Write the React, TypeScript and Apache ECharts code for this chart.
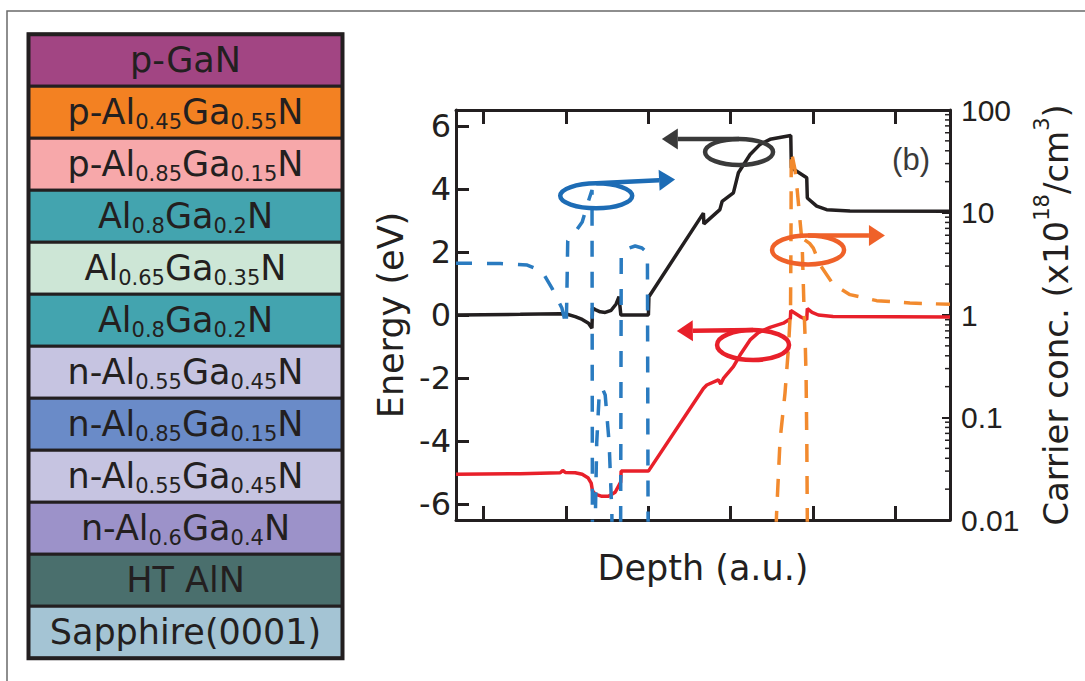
import React, { useEffect, useRef } from "react";
import * as echarts from "echarts";

// ---------- left panel: layer stack ----------
const layerNames = [
  "p-GaN",
  "p-Al{s|0.45}Ga{s|0.55}N",
  "p-Al{s|0.85}Ga{s|0.15}N",
  "Al{s|0.8}Ga{s|0.2}N",
  "Al{s|0.65}Ga{s|0.35}N",
  "Al{s|0.8}Ga{s|0.2}N",
  "n-Al{s|0.55}Ga{s|0.45}N",
  "n-Al{s|0.85}Ga{s|0.15}N",
  "n-Al{s|0.55}Ga{s|0.45}N",
  "n-Al{s|0.6}Ga{s|0.4}N",
  "HT AlN",
  "Sapphire(0001)",
];
const layerColors = [
  "#A24583",
  "#F38122",
  "#F7A8AA",
  "#43A4AF",
  "#CDE6D6",
  "#43A4AF",
  "#C6C4E1",
  "#6A8BC8",
  "#C6C4E1",
  "#9C92C9",
  "#4A6F6D",
  "#A4C4D4",
];

// ---------- band diagram (x: depth a.u., y: energy eV) ----------
const depthMin = -0.335;
const depthMax = 5.665;
const energyMin = -6.5;
const energyMax = 6.5;
const concMin = 0.01;
const concMax = 100;

const conductionBand: [number, number][] = [
  [-0.335, 0.0], [0.445, 0.02], [0.931, 0.04], [1.004, 0.03], [1.113, -0.05],
  [1.198, -0.14], [1.274, -0.26], [1.316, -0.42], [1.323, 0.22], [1.356, 0.17],
  [1.416, 0.1], [1.477, 0.08], [1.55, 0.15], [1.61, 0.35], [1.645, 0.58],
  [1.667, 0.0], [2.002, 0.0], [2.008, 0.58], [2.67, 3.23], [2.676, 2.89],
  [2.775, 3.12], [2.87, 3.34], [2.897, 3.6], [3.034, 3.87], [3.075, 4.3],
  [3.095, 4.51], [3.237, 5.09], [3.358, 5.41], [3.479, 5.57], [3.731, 5.69],
  [3.738, 4.67], [3.925, 4.35], [3.932, 3.71], [4.046, 3.45], [4.167, 3.34],
  [4.45, 3.3], [5.665, 3.29],
];

const valenceBand: [number, number][] = [
  [-0.335, -5.05], [0.445, -5.03], [0.931, -5.0], [0.961, -4.93], [0.992, -4.99],
  [1.113, -5.0], [1.198, -5.05], [1.271, -5.17], [1.307, -5.33], [1.323, -5.58],
  [1.356, -5.68], [1.437, -5.75], [1.517, -5.75], [1.598, -5.62], [1.665, -5.3],
  [1.671, -4.95], [2.002, -4.95], [2.67, -2.33], [2.711, -2.22], [2.852, -2.06],
  [2.881, -2.19], [2.913, -2.01], [3.034, -1.64], [3.115, -1.27], [3.237, -0.79],
  [3.337, -0.56], [3.479, -0.39], [3.641, -0.26], [3.726, -0.12], [3.731, 0.14],
  [3.844, -0.05], [3.925, -0.15], [3.932, 0.2], [3.99, 0.08], [4.066, 0.0],
  [4.244, -0.05], [5.665, -0.06],
];

// carrier concentration (x10^18 cm^-3), log axis
const electronConc: [number, number][] = [
  [-0.335, 3.2], [0.203, 3.18], [0.53, 3.07], [0.709, 2.67], [0.83, 1.83],
  [0.951, 1.17], [1.004, 0.78], [1.012, 1.64], [1.022, 5.27], [1.113, 6.45],
  [1.198, 8.08], [1.258, 11.8], [1.317, 16.6], [1.323, 0.001], [1.348, 0.004],
  [1.374, 0.0564], [1.405, 0.173], [1.441, 0.194], [1.477, 0.166], [1.525, 0.0564],
  [1.558, 0.0117], [1.568, 0.002], [1.663, 0.002], [1.672, 4.03], [1.732, 4.4],
  [1.841, 4.71], [1.924, 4.5], [1.99, 4.03], [2.001, 0.001],
];

const holeConc: [number, number | string][] = [
  [3.54, 0.004], [3.558, 0.0112], [3.601, 0.0603], [3.661, 0.173], [3.701, 0.456],
  [3.728, 1.12], [3.734, 6.75], [3.737, 39.8], [3.783, 26], [3.811, 16],
  [3.844, 8.2], [3.869, 5.0], [3.893, 1.1], [3.905, 0.61], [3.917, 0.25],
  [3.926, 0.056], [3.932, 0.01], [3.936, 0.002], [3.938, "-"],
  [3.9, 5.4], [3.96, 5.0], [4.005, 4.5], [4.086, 3.1], [4.248, 1.98],
  [4.45, 1.58], [4.774, 1.38], [5.178, 1.31], [5.665, 1.27],
];

const logMinorTicks = [
  0.02, 0.03, 0.04, 0.05, 0.06, 0.07, 0.08, 0.09,
  0.2, 0.3, 0.4, 0.5, 0.6, 0.7, 0.8, 0.9,
  2, 3, 4, 5, 6, 7, 8, 9,
  20, 30, 40, 50, 60, 70, 80, 90,
];

// annotation ellipses + arrows (ellipse centre and arrow tip in data coords)
const annotationCenters: [number, number][] = [
  [3.103, 5.17],
  [3.273, -0.952],
  [1.368, 3.778],
  [3.941, 2.063],
];
const annotationTips: [number, number][] = [
  [2.165, 5.58],
  [2.347, -0.508],
  [2.326, 4.295],
  [4.875, 2.524],
];
const annotationRadii: [number, number][] = [
  [34, 13],
  [36, 15],
  [36, 12.5],
  [36, 14.5],
];
const annotationColors = ["#3a3a3a", "#E8202A", "#1D6CB5", "#EF6129"];

const INK = "#231f20";
const SANS = "DejaVu Sans";

export default function App() {
  const ref = useRef<HTMLDivElement | null>(null);

  useEffect(() => {
    if (!ref.current) return;
    const chart = echarts.init(ref.current, undefined, { renderer: "svg" });

    // layer stack graphics
    const stackLeft = 28.5;
    const stackRight = 342.5;
    const stackTop = 34.3;
    const layerH = 52;
    const layerGraphics: any[] = [];
    layerNames.forEach((name, i) => {
      const y = stackTop + i * layerH;
      layerGraphics.push({
        type: "rect",
        shape: { x: stackLeft, y, width: stackRight - stackLeft, height: layerH },
        style: { fill: layerColors[i], stroke: INK, lineWidth: 3 },
        z: 1,
      });
      layerGraphics.push({
        type: "text",
        x: (stackLeft + stackRight) / 2,
        y: y + layerH / 2,
        z: 2,
        style: {
          text: name,
          fontSize: 35,
          fontFamily: SANS,
          fill: INK,
          align: "center",
          verticalAlign: "middle",
          textAlign: "center",
          textVerticalAlign: "middle",
          lineHeight: 40,
          rich: {
            s: {
              fontSize: 21,
              fontFamily: SANS,
              fill: INK,
              lineHeight: 14,
              verticalAlign: "bottom",
            },
          },
        },
      });
    });
    layerGraphics.push({
      type: "rect",
      shape: {
        x: stackLeft,
        y: stackTop,
        width: stackRight - stackLeft,
        height: layerH * layerNames.length,
      },
      style: { fill: "none", stroke: INK, lineWidth: 4 },
      z: 3,
    });

    const lineCommon = {
      type: "line",
      showSymbol: false,
      symbol: "none",
      silent: true,
      clip: true,
      animation: false,
    };

    const option: any = {
      animation: false,
      backgroundColor: "#ffffff",
      graphic: [
        {
          type: "rect",
          shape: { x: 7, y: 11, width: 1300, height: 900 },
          style: { fill: "none", stroke: "#6a6a6a", lineWidth: 1.5 },
          z: 0,
        },
        ...layerGraphics,
        {
          type: "text",
          x: 930,
          y: 159,
          z: 5,
          style: {
            text: "(b)",
            fontSize: 31,
            fontFamily: "Liberation Sans",
            fill: "#3a3a3a",
            align: "right",
            verticalAlign: "middle",
            textAlign: "right",
            textVerticalAlign: "middle",
          },
        },
      ],
      grid: { left: 456, top: 110, right: 135, bottom: 161, containLabel: false },
      xAxis: [
        {
          type: "value",
          min: depthMin,
          max: depthMax,
          minInterval: 1,
          maxInterval: 1,
          position: "bottom",
          name: "Depth (a.u.)",
          nameLocation: "middle",
          nameGap: 30,
          nameTextStyle: { fontSize: 35, fontFamily: SANS, color: INK },
          axisLine: { show: true, onZero: false, lineStyle: { color: INK, width: 3 } },
          axisTick: { show: true, inside: true, length: 14, lineStyle: { color: INK, width: 3 } },
          axisLabel: { show: false },
          splitLine: { show: false },
        },
        {
          type: "value",
          min: depthMin,
          max: depthMax,
          minInterval: 1,
          maxInterval: 1,
          position: "top",
          axisLine: { show: true, onZero: false, lineStyle: { color: INK, width: 3 } },
          axisTick: { show: true, inside: true, length: 14, lineStyle: { color: INK, width: 3 } },
          axisLabel: { show: false },
          splitLine: { show: false },
        },
      ],
      yAxis: [
        {
          type: "value",
          min: energyMin,
          max: energyMax,
          minInterval: 2,
          maxInterval: 2,
          position: "left",
          name: "Energy (eV)",
          nameLocation: "middle",
          nameGap: 48,
          nameTextStyle: { fontSize: 35, fontFamily: SANS, color: INK },
          axisLine: { show: true, onZero: false, lineStyle: { color: INK, width: 3 } },
          axisTick: { show: true, inside: true, length: 13, lineStyle: { color: INK, width: 3 } },
          axisLabel: {
            show: true,
            margin: 5,
            fontSize: 32,
            fontFamily: SANS,
            color: INK,
            showMinLabel: false,
            showMaxLabel: false,
          },
          splitLine: { show: false },
        },
        {
          type: "log",
          logBase: 10,
          min: concMin,
          max: concMax,
          position: "right",
          name: "Carrier conc. (x10{sup|18}/cm{sup|3})",
          nameLocation: "middle",
          nameGap: 81,
          nameTextStyle: {
            fontSize: 34,
            fontFamily: SANS,
            color: INK,
            lineHeight: 50,
            rich: {
              sup: {
                fontSize: 21,
                fontFamily: SANS,
                color: INK,
                lineHeight: 14,
                verticalAlign: "top",
              },
            },
          },
          axisLine: { show: true, onZero: false, lineStyle: { color: INK, width: 3 } },
          axisTick: { show: true, inside: true, length: 8, lineStyle: { color: INK, width: 2 } },
          axisLabel: {
            show: true,
            margin: 11,
            fontSize: 30,
            fontFamily: "Liberation Sans",
            color: INK,
            formatter: (v: number) => String(parseFloat(Number(v).toPrecision(4))),
          },
          splitLine: { show: false },
          minorTick: { show: false },
        },
      ],
      series: [
        {
          ...lineCommon,
          name: "Conduction band",
          xAxisIndex: 0,
          yAxisIndex: 0,
          data: conductionBand,
          lineStyle: { color: INK, width: 3.5 },
          z: 3,
        },
        {
          ...lineCommon,
          name: "Valence band",
          xAxisIndex: 0,
          yAxisIndex: 0,
          data: valenceBand,
          lineStyle: { color: "#E8202A", width: 3.5 },
          z: 3,
        },
        {
          ...lineCommon,
          name: "Electron conc.",
          xAxisIndex: 0,
          yAxisIndex: 1,
          data: electronConc,
          connectNulls: false,
          lineStyle: { color: "#2A7BC0", width: 3.5, type: [16, 15] },
          z: 4,
        },
        {
          ...lineCommon,
          name: "Hole conc.",
          xAxisIndex: 0,
          yAxisIndex: 1,
          data: holeConc,
          connectNulls: false,
          lineStyle: { color: "#F28A2E", width: 3.5, type: [18, 14] },
          z: 4,
        },
        {
          type: "custom",
          name: "log minor ticks",
          xAxisIndex: 0,
          yAxisIndex: 1,
          silent: true,
          data: logMinorTicks.map((v) => [depthMax, v]),
          encode: { x: 0, y: 1 },
          renderItem: (_params: any, api: any) => {
            const p = api.coord([api.value(0), api.value(1)]);
            return {
              type: "line",
              shape: { x1: p[0] - 5, y1: p[1], x2: p[0], y2: p[1] },
              style: { stroke: INK, lineWidth: 1.5 },
            };
          },
          z: 6,
        },
        {
          type: "custom",
          name: "annotations",
          xAxisIndex: 0,
          yAxisIndex: 0,
          silent: true,
          data: annotationCenters.map((c, i) => [c[0], c[1], annotationTips[i][0], annotationTips[i][1]]),
          encode: { x: 0, y: 1 },
          renderItem: (params: any, api: any) => {
            const i = params.dataIndex;
            const color = annotationColors[i];
            const [rx, ry] = annotationRadii[i];
            const c = api.coord([api.value(0), api.value(1)]);
            const tip = api.coord([api.value(2), api.value(3)]);
            const start = [c[0], c[1] - ry];
            const dx = tip[0] - start[0];
            const dy = tip[1] - start[1];
            const len = Math.hypot(dx, dy) || 1;
            const ux = dx / len;
            const uy = dy / len;
            const headLen = 16;
            const headHalf = 10.5;
            const base = [tip[0] - ux * headLen, tip[1] - uy * headLen];
            const nx = -uy;
            const ny = ux;
            return {
              type: "group",
              children: [
                {
                  type: "ellipse",
                  shape: { cx: c[0], cy: c[1], rx, ry },
                  style: { fill: "none", stroke: color, lineWidth: 4.5 },
                },
                {
                  type: "line",
                  shape: { x1: start[0], y1: start[1], x2: base[0], y2: base[1] },
                  style: { stroke: color, lineWidth: 4.5 },
                },
                {
                  type: "polygon",
                  shape: {
                    points: [
                      [tip[0], tip[1]],
                      [base[0] + nx * headHalf, base[1] + ny * headHalf],
                      [base[0] - nx * headHalf, base[1] - ny * headHalf],
                    ],
                  },
                  style: { fill: color },
                },
              ],
            };
          },
          z: 7,
        },
      ],
    };

    chart.setOption(option);
    return () => {
      chart.dispose();
    };
  }, []);

  return (
    <div
      ref={ref}
      style={{
        position: "absolute",
        left: 0,
        top: 0,
        width: 1085,
        height: 681,
        background: "#ffffff",
      }}
    />
  );
}
